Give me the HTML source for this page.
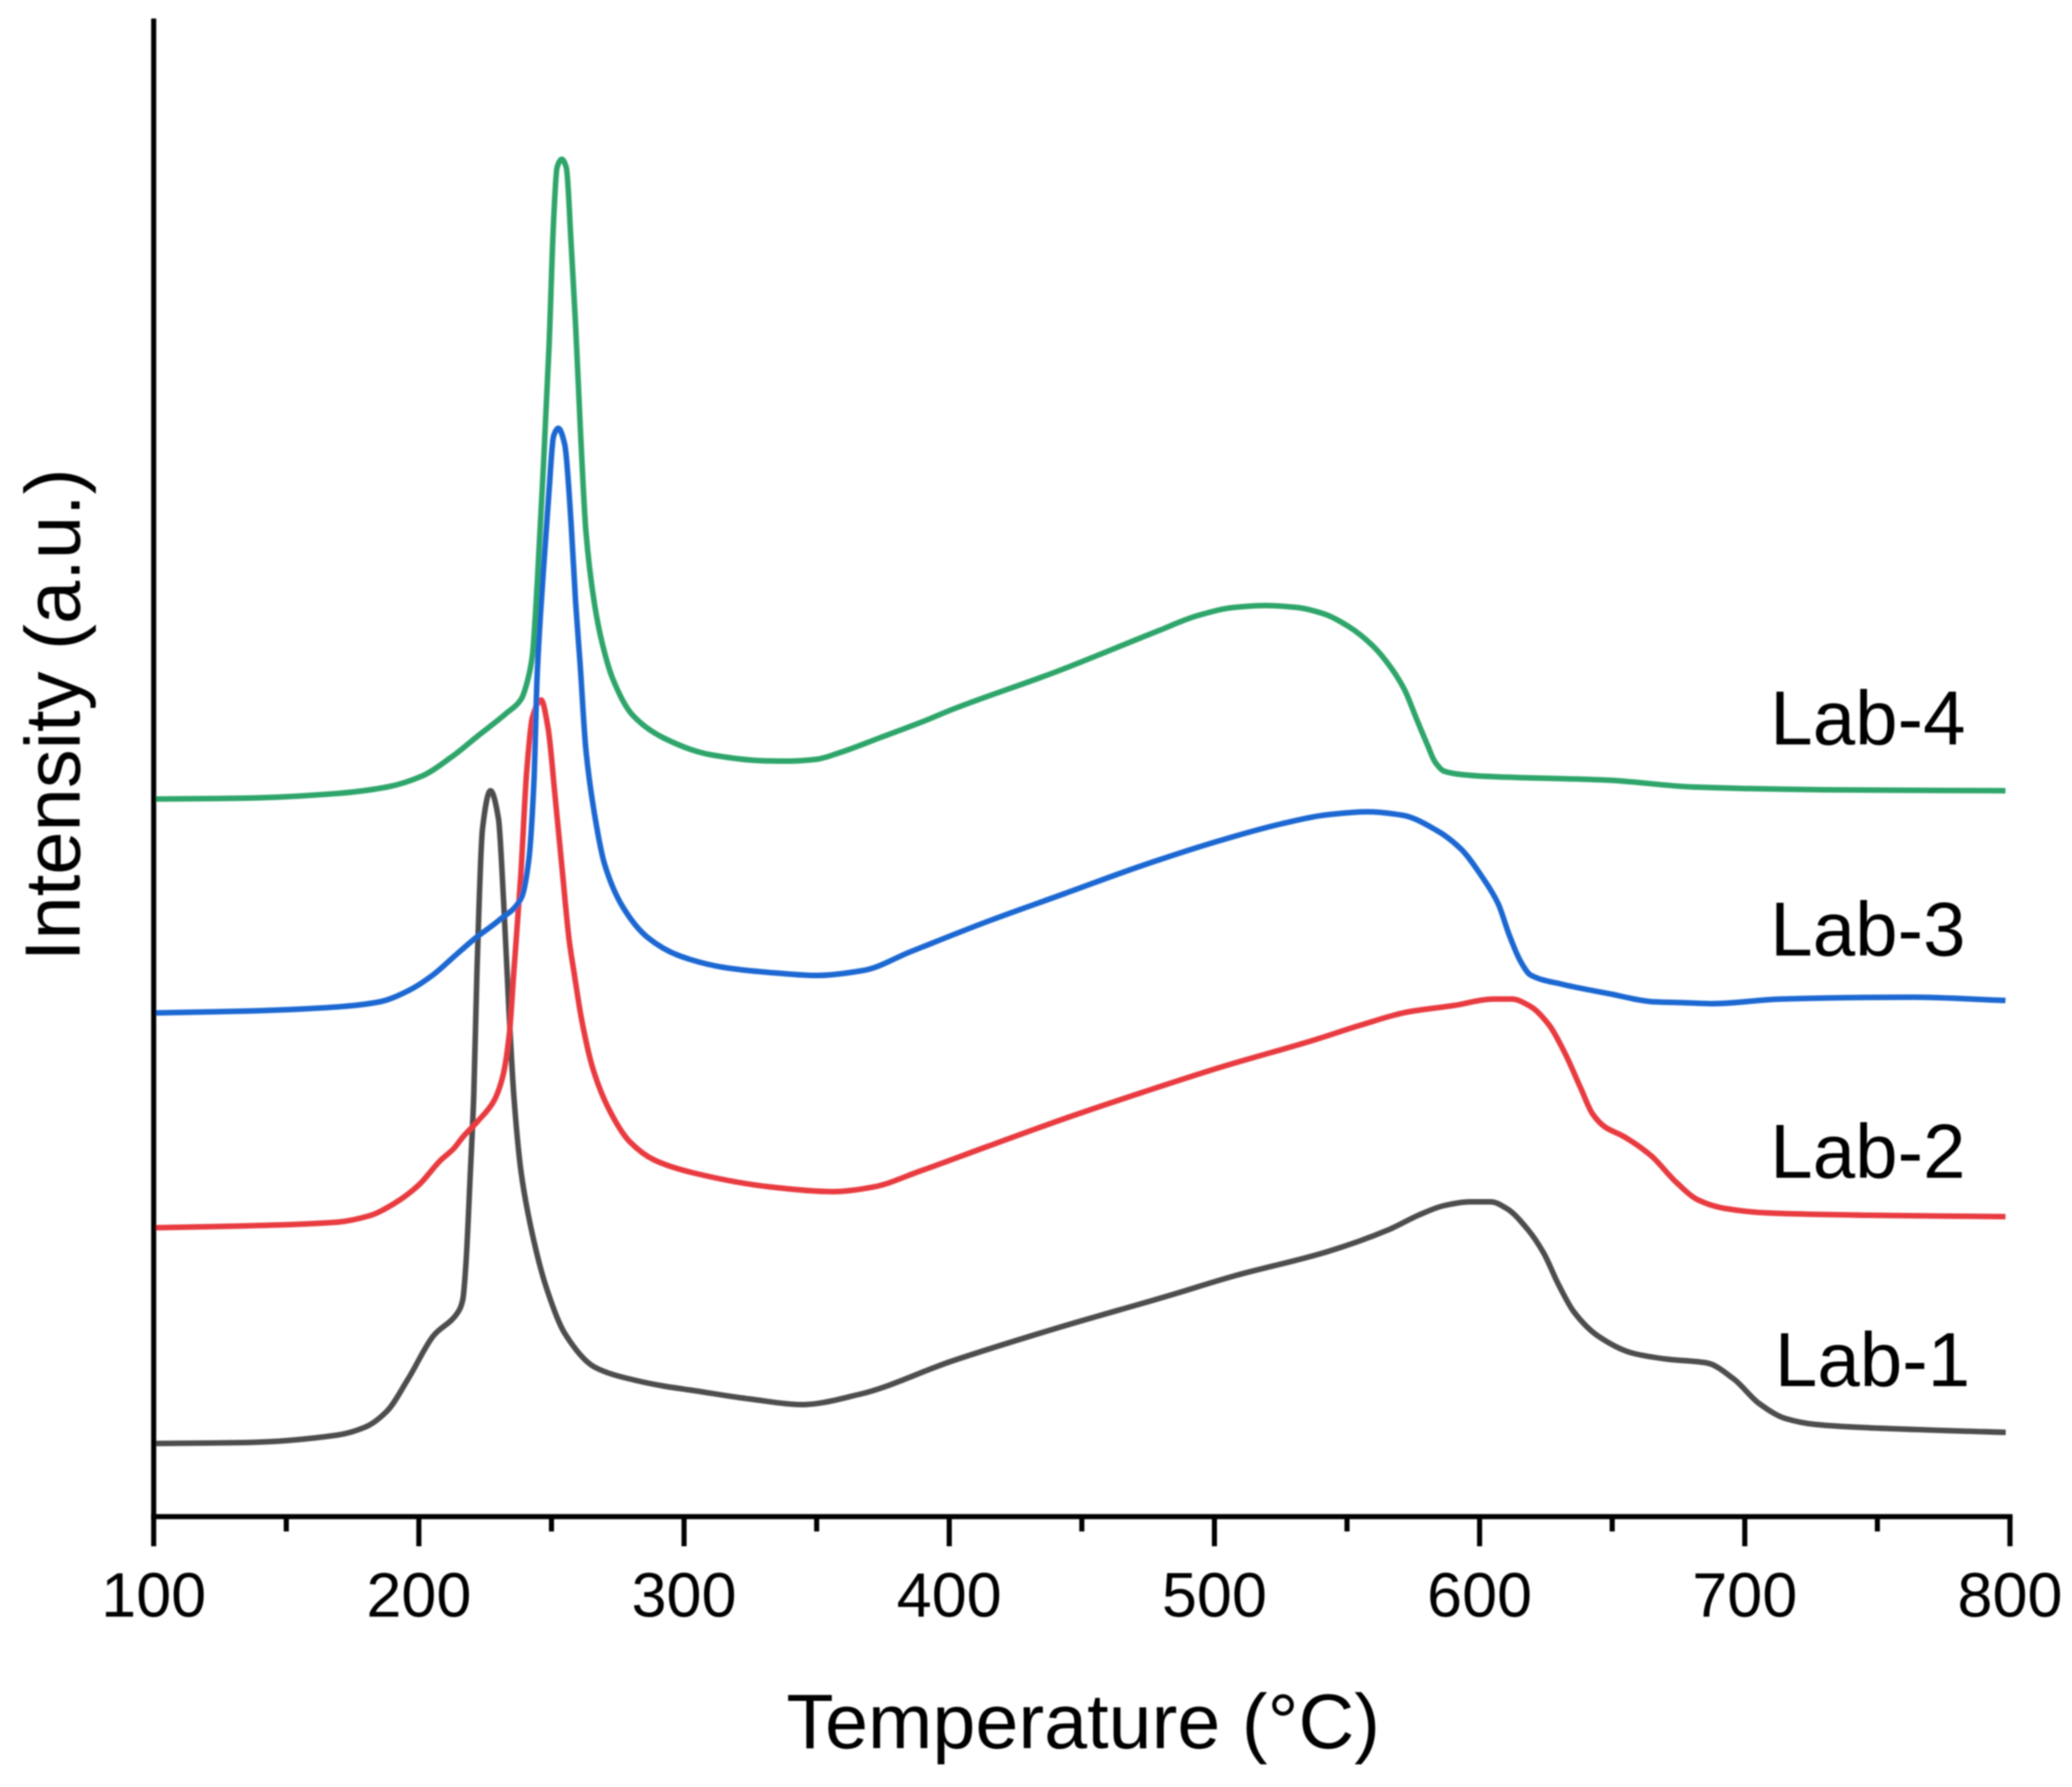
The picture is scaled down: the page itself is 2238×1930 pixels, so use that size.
<!DOCTYPE html>
<html lang="en">
<head>
<meta charset="utf-8">
<title>Intensity vs Temperature</title>
<style>
  html, body { margin: 0; padding: 0; background: #fff; }
  svg { display: block; }
  text { font-family: "Liberation Sans", Arial, sans-serif; fill: #000; }
</style>
</head>
<body>
<svg id="chart" xmlns="http://www.w3.org/2000/svg" width="2238" height="1930" viewBox="0 0 2238 1930">
  <rect x="0" y="0" width="2238" height="1930" fill="#fff"/>
  <g id="root" filter="url(#soft)">
    <g id="series"></g>
    <g id="axes"></g>
    <text x="1170" y="1888" font-size="83.5" text-anchor="middle">Temperature (°C)</text>
    <text transform="translate(86 772) rotate(-90)" font-size="84" text-anchor="middle">Intensity (a.u.)</text>
    <text x="1912" y="804" font-size="82.5">Lab-4</text>
    <text x="1912" y="1032" font-size="82.5">Lab-3</text>
    <text x="1912" y="1272" font-size="82.5">Lab-2</text>
    <text x="1917" y="1497" font-size="82.5">Lab-1</text>
  </g>
  <defs>
    <filter id="soft" x="0" y="0" width="100%" height="100%" filterUnits="userSpaceOnUse">
      <feGaussianBlur stdDeviation="0.7"/>
    </filter>
  </defs>
</svg>
<script>
const majorTicks = [100, 200, 300, 400, 500, 600, 700, 800];
const minorTicks = [150, 250, 350, 450, 550, 650, 750];

const lab1T = [100,134.6,169.1,180,188,196,205.4,215.2,216.6,217.7,219.4,220.7,221.9,224,227,230,232,234,235.8,238.6,242.8,248,255,266.6,282,292.4,304,325,344.4,366,401,441,482,507.5,542.4,565.8,577.3,586.7,596.2,604.2,610.1,618.2,624.1,629.7,635.6,644.7,657.8,671,685.7,695.7,705.5,715.3,726.8,746.7,798.4];
const lab1I = [79,80,88,97,114,149,195,223,235,271,371,455,588,743,784,754,662,545,455,371,305,248,198,161,147,141,136,127,121,132,168,204,238,260,286,310,326,336,340,340,333,310,285,251,221,195,176.5,170,166,149,122,106,99.5,96,91];

const lab2T = [100,134.6,169.1,181.4,190.6,199.9,207.9,213.3,216.6,222.5,228.1,231.6,234.1,235.8,238.4,240.7,242.8,246.1,248.7,251.4,254.1,256.7,258.5,261.3,265.5,271.5,279.5,288.9,303.9,332.9,356.3,371.3,388.8,414.6,443.6,472.6,501.9,537.9,555.3,572.8,590.2,605.2,612.2,619.2,626.2,632.1,638.1,642.6,647.2,654.1,664.6,674.2,682.4,692.2,708.6,746.7,798.3];
const lab2I = [312,314,318,325,338,358,384,398,410,428,448,475,521,588,691,806,863,882,852,777,697,622,588,538,485,441,405,385,371,356,351,356,373,400,430,458,485,515,531,545,552,559,559,551,531,501,463,435,421,411,390,361,342,333,328,325.5,324];

const lab3T = [100,134.6,169.1,185.2,196,205.3,213.3,221.4,230.6,238.6,241.4,243.4,244.6,246.9,249.1,250.8,252.6,255,257.4,259.1,260.8,263,266.1,270,277,286.5,298,315.4,335.3,350,367.8,385.3,414.6,443.6,472.6,501.9,524.9,542.4,557.8,571,583.6,593,600.7,607,611.2,615.4,619.2,631.1,648.5,666,677.5,687.3,713.7,763,798.3];
const lab3I = [544,546,550.5,556,568,585,605,625,645,668,708,794.5,908,1019,1108.5,1167,1175.5,1158,1073,988,921,828,761,705,658,625,606,593,587,584.5,590,610,643,673,703,730,748,758,761.3,757.5,741.5,721,692,662,628,600,585,575,565,556,555,554,559,561,557.5];

const lab4T = [100,134.6,169.1,188,201.3,212.1,222.6,232.9,238.6,241,242.8,244.6,246.9,249.1,250.8,252.1,253.9,255.6,257.4,259.1,260.9,263,266.1,269,273.1,280.5,292.3,309.8,330.7,340,350,358.6,373.7,391.2,400.9,440.8,478.5,493.5,507.5,519.3,530.9,541.3,550.8,559.9,566.8,571.7,576.3,580.4,583.2,586.7,594.8,606.6,618.2,647.8,680.7,730,798.3];
const lab4I = [775,776,781,788,800,820,844,867.5,883,903,930,1006,1131,1265,1399,1457,1466,1457,1376,1287,1175,1064,988,945,905,866,841,823,816.3,816,818,825,841,860,871.5,913,956.3,973,982,984,982,975,961,940,916,893,861,833,815,805,801,799,798,795.5,788,785,784];

const NS = 'http://www.w3.org/2000/svg';
const xDomain = [100, 800];
const xRange = [166, 2171];
const yDomain = [0, 1618];
const yRange = [1638, 20];

function xScale(t) {
  return xRange[0] + (t - xDomain[0]) / (xDomain[1] - xDomain[0]) * (xRange[1] - xRange[0]);
}
function yScale(v) {
  return yRange[0] + (v - yDomain[0]) / (yDomain[1] - yDomain[0]) * (yRange[1] - yRange[0]);
}

// Monotone cubic path through the data points
function curvePath(ts, vs) {
  const px = ts.map(xScale);
  const py = vs.map(yScale);
  const n = px.length;
  const d = [];
  const m = new Array(n);
  for (let i = 0; i < n - 1; i++) d.push((py[i + 1] - py[i]) / (px[i + 1] - px[i]));
  m[0] = d[0];
  m[n - 1] = d[n - 2];
  for (let i = 1; i < n - 1; i++) {
    if (d[i - 1] * d[i] <= 0) { m[i] = 0; continue; }
    const h0 = px[i] - px[i - 1];
    const h1 = px[i + 1] - px[i];
    m[i] = (h0 + h1) * 3 / ((2 * h1 + h0) / d[i - 1] + (h1 + 2 * h0) / d[i]);
  }
  let path = 'M' + px[0].toFixed(2) + ' ' + py[0].toFixed(2);
  for (let i = 0; i < n - 1; i++) {
    const h = (px[i + 1] - px[i]) / 3;
    path += 'C' + (px[i] + h).toFixed(2) + ' ' + (py[i] + m[i] * h).toFixed(2) + ' ' +
      (px[i + 1] - h).toFixed(2) + ' ' + (py[i + 1] - m[i + 1] * h).toFixed(2) + ' ' +
      px[i + 1].toFixed(2) + ' ' + py[i + 1].toFixed(2);
  }
  return path;
}

const seriesGroup = document.getElementById('series');
const axesGroup = document.getElementById('axes');

function drawLine(ts, vs, color) {
  const p = document.createElementNS(NS, 'path');
  p.setAttribute('d', curvePath(ts, vs));
  p.setAttribute('fill', 'none');
  p.setAttribute('stroke', color);
  p.setAttribute('stroke-width', '6');
  p.setAttribute('stroke-linejoin', 'round');
  seriesGroup.appendChild(p);
  return p;
}

const line1 = drawLine(lab1T, lab1I, '#4d4d4d');


const line2 = drawLine(lab2T, lab2I, '#e83a40');


const line3 = drawLine(lab3T, lab3I, '#1d68d2');


const line4 = drawLine(lab4T, lab4I, '#2fa56b');



function axisSeg(x1, y1, x2, y2) {
  const l = document.createElementNS(NS, 'line');
  l.setAttribute('x1', x1);
  l.setAttribute('y1', y1);
  l.setAttribute('x2', x2);
  l.setAttribute('y2', y2);
  l.setAttribute('stroke', '#000');
  l.setAttribute('stroke-width', '5.5');
  axesGroup.appendChild(l);
  return l;
}

const yAxisLine = axisSeg(xRange[0], yRange[1], xRange[0], yRange[0] + 2.75);


const xAxisLine = axisSeg(xRange[0] - 2.75, yRange[0], xRange[1] + 2.75, yRange[0]);



majorTicks.forEach(function (t) {
  const tick = axisSeg(xScale(t), yRange[0], xScale(t), 1670);
  
  
  const label = document.createElementNS(NS, 'text');
  
  
  label.setAttribute('x', xScale(t));
  label.setAttribute('y', 1746);
  label.setAttribute('font-size', '68');
  label.setAttribute('text-anchor', 'middle');
  label.textContent = String(t);
  axesGroup.appendChild(label);
});

minorTicks.forEach(function (t) {
  const tick = axisSeg(xScale(t), yRange[0], xScale(t), 1654);
  
  
});
</script>
</body>
</html>
